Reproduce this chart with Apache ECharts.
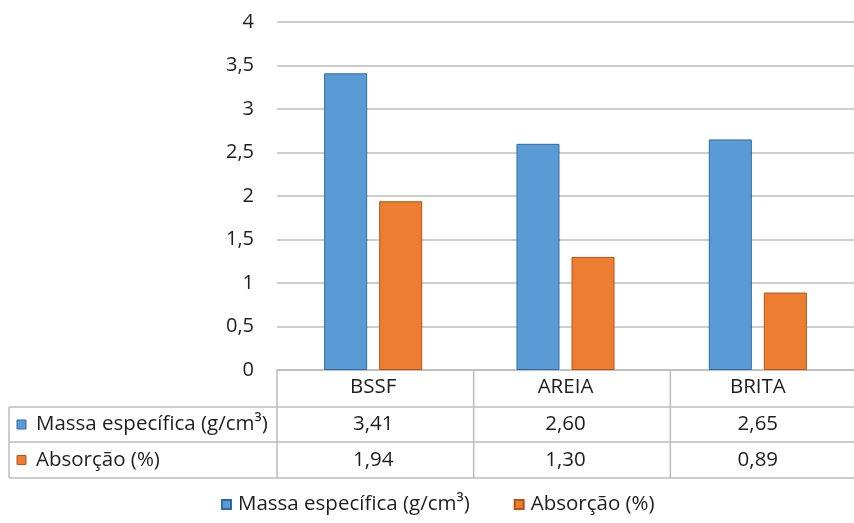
<!DOCTYPE html>
<html>
<head>
<meta charset="utf-8">
<script src="https://cdn.jsdelivr.net/npm/echarts@6/dist/echarts.min.js"></script>
<style>
  html, body { margin: 0; padding: 0; background: #ffffff; }
  #chart { width: 854px; height: 523px; }
</style>
</head>
<body>
<div id="chart"></div>
<script>
// Categories and values
const categories = ['BSSF', 'AREIA', 'BRITA'];
const massaEspecifica = [3.41, 2.60, 2.65];
const absorcao = [1.94, 1.30, 0.89];
const seriesNames = ['Massa específica (g/cm³)', 'Absorção (%)'];
const yMin = 0, yMax = 4, yStep = 0.5;

// Styling
const FONT = '"Open Sans", "Liberation Sans", sans-serif';
const TEXT = '#1e1e1e';
const LINE = '#bcbcbc';
const BLUE = '#5b9bd5', BLUE_EDGE = '#2e6aa6';
const ORANGE = '#ed7d31', ORANGE_EDGE = '#b3561a';
const TXT_SIZE = 20.5;

// Plot / table layout (px)
const plot = { left: 277, top: 22, width: 590, height: 348 };
const tableLeft = 9;
const rowBottoms = [407, 442, 478]; // header, row 1, row 2

const fmt = v => v.toFixed(2).replace('.', ',');

const chart = echarts.init(document.getElementById('chart'));

chart.setOption({
  animation: false,
  backgroundColor: '#ffffff',
  textStyle: { fontFamily: FONT, color: TEXT },
  grid: { left: plot.left, top: plot.top, width: plot.width, height: plot.height, containLabel: false },
  legend: {
    top: 489,
    left: 216,
    itemWidth: 9,
    itemHeight: 9,
    itemGap: 44,
    icon: 'rect',
    textStyle: { fontFamily: FONT, fontSize: TXT_SIZE, color: TEXT, padding: [0, 0, 0, 2] },
    data: seriesNames
  },
  xAxis: {
    type: 'category',
    data: categories,
    axisLine: { show: true, lineStyle: { color: LINE, width: 1.5 } },
    axisTick: { show: false },
    axisLabel: { fontFamily: FONT, fontSize: TXT_SIZE, color: TEXT, margin: 7 },
    splitLine: { show: false }
  },
  yAxis: {
    type: 'value',
    min: yMin, max: yMax, interval: yStep,
    axisLine: { show: false },
    axisTick: { show: false },
    axisLabel: {
      fontFamily: FONT, fontSize: 20, color: TEXT, margin: 23,
      formatter: v => String(v).replace('.', ',')
    },
    splitLine: { lineStyle: { color: LINE, width: 1.5 } }
  },
  series: [
    {
      name: seriesNames[0], type: 'bar', data: massaEspecifica,
      barWidth: 43, barGap: '28%',
      itemStyle: { color: BLUE, borderColor: BLUE_EDGE, borderWidth: 1 }
    },
    {
      name: seriesNames[1], type: 'bar', data: absorcao,
      barWidth: 43,
      itemStyle: { color: ORANGE, borderColor: ORANGE_EDGE, borderWidth: 1 }
    }
  ]
});

// Data table below the category axis, aligned to the category bands
function buildTable() {
  const right = plot.left + plot.width;
  const band = plot.width / categories.length;
  const baseY = chart.convertToPixel({ yAxisIndex: 0 }, 0);
  const els = [];
  const line = (x1, y1, x2, y2) => els.push({
    type: 'line', silent: true,
    shape: { x1, y1, x2, y2 },
    style: { stroke: LINE, lineWidth: 1.5 }
  });
  // vertical cell borders
  for (let i = 0; i < categories.length; i++) {
    line(plot.left + i * band, baseY, plot.left + i * band, rowBottoms[2]);
  }
  line(tableLeft, rowBottoms[0], tableLeft, rowBottoms[2]);
  // horizontal cell borders
  rowBottoms.forEach(y => line(tableLeft, y, right, y));

  const rows = [
    { name: seriesNames[0], values: massaEspecifica, color: BLUE, edge: BLUE_EDGE },
    { name: seriesNames[1], values: absorcao, color: ORANGE, edge: ORANGE_EDGE }
  ];
  rows.forEach((row, r) => {
    const cy = (rowBottoms[r] + rowBottoms[r + 1]) / 2;
    els.push({
      type: 'rect', silent: true,
      shape: { x: tableLeft + 8, y: cy - 4.5, width: 9, height: 9 },
      style: { fill: row.color, stroke: row.edge, lineWidth: 1 }
    });
    els.push({
      type: 'text', silent: true, x: tableLeft + 27, y: cy,
      style: { text: row.name, font: TXT_SIZE + 'px ' + FONT, fill: TEXT, verticalAlign: 'middle', align: 'left' }
    });
    row.values.forEach((v, i) => {
      const cx = chart.convertToPixel({ xAxisIndex: 0 }, categories[i]);
      els.push({
        type: 'text', silent: true, x: cx, y: cy,
        style: { text: fmt(v), font: TXT_SIZE + 'px ' + FONT, fill: TEXT, verticalAlign: 'middle', align: 'center' }
      });
    });
  });
  chart.setOption({ graphic: els });
}
buildTable();
</script>
</body>
</html>
